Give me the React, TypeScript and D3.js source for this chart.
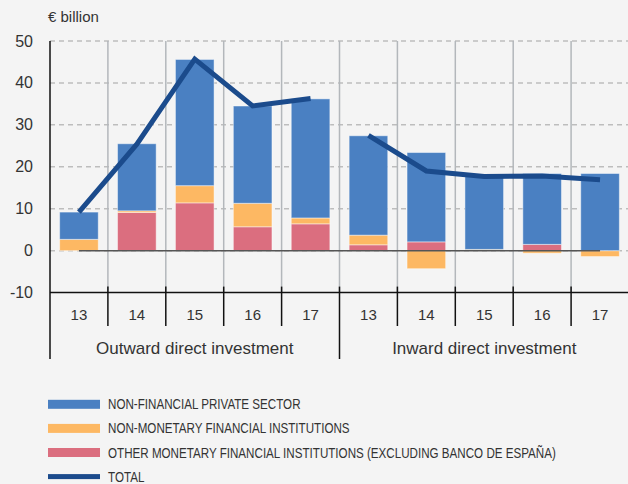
import React from "react";
import * as d3 from "d3";

const years = ["13", "14", "15", "16", "17"];
const groups = ["Outward direct investment", "Inward direct investment"];
const categories = ["O13", "O14", "O15", "O16", "O17", "I13", "I14", "I15", "I16", "I17"];
const otherMFI = [0, 9.1, 11.4, 5.7, 6.4, 1.4, 2.1, 0, 1.5, 0];
const nonMonetary = [2.7, 0.4, 4.1, 5.6, 1.4, 2.3, -4.3, 0.3, -0.6, -1.4];
const nonFinancial = [6.5, 16.0, 30.1, 23.2, 28.4, 23.7, 21.3, 17.4, 16.9, 18.4];
const totalOutward = [9.2, 25.4, 45.7, 34.5, 36.3];
const totalInward = [27.5, 19.0, 17.7, 17.8, 16.9];
const yTicks = [-10, 0, 10, 20, 30, 40, 50];
const legendLabels = [
  "NON-FINANCIAL PRIVATE SECTOR",
  "NON-MONETARY FINANCIAL INSTITUTIONS",
  "OTHER MONETARY FINANCIAL INSTITUTIONS (EXCLUDING BANCO DE ESPAÑA)",
  "TOTAL",
];

const W = 628;
const H = 484;
const COLORS = { red: "#db6e7f", orange: "#fdb863", blue: "#4a80c2", total: "#1b4b8c" };
const FONT = "'Liberation Sans', Arial, Helvetica, sans-serif";
const TEXT = "#333";

export default function App() {
  const x = d3.scaleBand<string>().domain(categories).range([50, 629]).paddingInner(0.333).paddingOuter(0.1665);
  const y = d3.scaleLinear().domain([-10, 50]).range([292.6, 41]);
  const step = x.step();
  const left = 50;
  const boundary = (i: number) => left + i * step;

  const rows = categories.map((c, i) => ({ cat: c, red: otherMFI[i], orange: nonMonetary[i], blue: nonFinancial[i] }));
  const stack = d3.stack<any>().keys(["red", "orange", "blue"]).offset(d3.stackOffsetDiverging);
  const series = stack(rows);

  const cx = (c: string) => (x(c) as number) + x.bandwidth() / 2;
  const outLine = d3.line<number>().x((_, i) => cx(categories[i])).y((d) => y(d));
  const inLine = d3.line<number>().x((_, i) => cx(categories[i + 5])).y((d) => y(d));

  return (
    <div style={{ position: "fixed", left: 0, top: 0, width: W, height: H, background: "#f4f4f4" }}>
      <svg width={W} height={H} style={{ display: "block" }}>
        <rect x={0} y={0} width={W} height={H} fill="#f4f4f4" />
        <text x={48} y={22} fontFamily={FONT} fontSize={15} fill={TEXT}>€ billion</text>
        {yTicks.filter((t) => t >= 0).map((t) => (
          <line key={t} x1={left} x2={W} y1={y(t)} y2={y(t)} stroke="#bdbdbd" strokeWidth={1.5} strokeDasharray="5,4" />
        ))}
        {d3.range(1, 10).map((i) => (
          <line key={i} x1={boundary(i)} x2={boundary(i)} y1={y(50)} y2={y(-10)} stroke="#b3b7bb" strokeWidth={1.5} />
        ))}
        {series.map((s) => (
          <g key={s.key} fill={(COLORS as any)[s.key]}>
            {s.map((d, i) => {
              const y0 = y(d[0]);
              const y1 = y(d[1]);
              const h = Math.abs(y0 - y1);
              if (h < 0.01) return null;
              return (
                <rect key={i} x={x(categories[i])} y={Math.min(y0, y1)} width={x.bandwidth()} height={h}
                  stroke="#ffffff" strokeOpacity={0.45} strokeWidth={1} />
              );
            })}
          </g>
        ))}
        <line x1={cx(categories[0])} x2={cx(categories[9])} y1={y(0)} y2={y(0)} stroke="#555" strokeWidth={1.5} />
        <path d={outLine(totalOutward) || ""} fill="none" stroke={COLORS.total} strokeWidth={5} />
        <path d={inLine(totalInward) || ""} fill="none" stroke={COLORS.total} strokeWidth={5} />
        <line x1={left} x2={left} y1={y(50)} y2={359} stroke="#111" strokeWidth={1.5} />
        <line x1={left} x2={W} y1={y(-10)} y2={y(-10)} stroke="#111" strokeWidth={1.5} />
        {d3.range(1, 10).map((i) => (
          <line key={i} x1={boundary(i)} x2={boundary(i)} y1={y(-10) - 6} y2={i === 5 ? 359 : 326} stroke="#111" strokeWidth={1.5} />
        ))}
        {yTicks.map((t) => (
          <text key={t} x={33} y={y(t) + 5.5} textAnchor="end" fontFamily={FONT} fontSize={16} fill={TEXT}>{t}</text>
        ))}
        {categories.map((c, i) => (
          <text key={c} x={cx(c)} y={319.5} textAnchor="middle" fontFamily={FONT} fontSize={15} fill={TEXT}>{years[i % 5]}</text>
        ))}
        {groups.map((g, gi) => (
          <text key={g} x={(boundary(gi * 5) + boundary(gi * 5 + 5)) / 2} y={354} textAnchor="middle" fontFamily={FONT} fontSize={17} fill={TEXT}>{g}</text>
        ))}
        {legendLabels.map((l, i) => {
          const cy = 404.3 + i * 24.1;
          const col = [COLORS.blue, COLORS.orange, COLORS.red, COLORS.total][i];
          const hh = i === 3 ? 5 : 9;
          return (
            <g key={l}>
              <rect x={48} y={cy - hh / 2} width={52} height={hh} fill={col} />
              <text transform={`translate(108,${cy + 5}) scale(0.83,1)`} fontFamily={FONT} fontSize={14} fill={TEXT}>{l}</text>
            </g>
          );
        })}
      </svg>
    </div>
  );
}
